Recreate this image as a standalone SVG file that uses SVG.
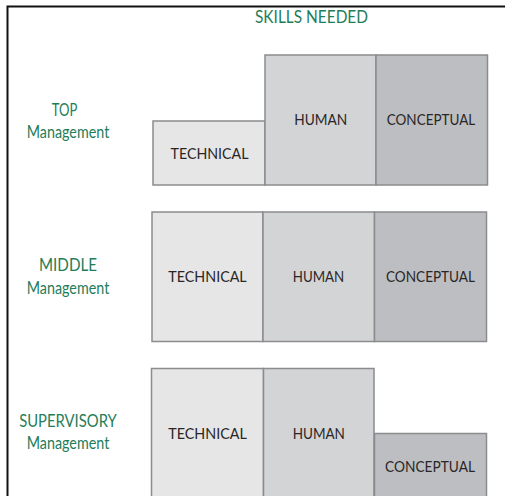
<svg xmlns="http://www.w3.org/2000/svg" width="505" height="496" viewBox="0 0 505 496">
<style>
.frame{fill:none;stroke:#111;stroke-width:2}
.box{stroke:#8c8c8e;stroke-width:1.5}
.t{fill:#e6e6e6}
.h{fill:#d3d4d6}
.c{fill:#bdbec1}
.lbl{font-family:Lato,"Open Sans","Liberation Sans",sans-serif;font-size:16px;fill:#2a2627;text-anchor:middle}
.grn{font-family:Lato,"Open Sans","Liberation Sans",sans-serif;font-size:16.5px;fill:#1f7d59;text-anchor:middle}
</style>
<rect width="505" height="496" fill="#fff"/>
<path class="frame" d="M7.5 496 V6.5 H505"/>
<g id="title"><text class="grn" x="311.5" y="23" textLength="113" lengthAdjust="spacingAndGlyphs">SKILLS NEEDED</text></g>
<g id="top-label">
<text class="grn" x="64.5" y="116" textLength="25.6" lengthAdjust="spacingAndGlyphs">TOP</text>
<text class="grn" x="68" y="138" textLength="82.6" lengthAdjust="spacingAndGlyphs">Management</text>
</g>
<g id="middle-label">
<text class="grn" x="68" y="271" textLength="58" lengthAdjust="spacingAndGlyphs">MIDDLE</text>
<text class="grn" x="68" y="294" textLength="82.6" lengthAdjust="spacingAndGlyphs">Management</text>
</g>
<g id="supervisory-label">
<text class="grn" x="68" y="427" textLength="97.6" lengthAdjust="spacingAndGlyphs">SUPERVISORY</text>
<text class="grn" x="68" y="449" textLength="82.6" lengthAdjust="spacingAndGlyphs">Management</text>
</g>
<g id="top-technical"><rect class="box t" x="153" y="121" width="112" height="64"/><text class="lbl" x="209.5" y="159" textLength="78" lengthAdjust="spacingAndGlyphs">TECHNICAL</text></g>
<g id="top-human"><rect class="box h" x="265" y="55" width="111" height="130"/><text class="lbl" x="320.7" y="125" textLength="53" lengthAdjust="spacingAndGlyphs">HUMAN</text></g>
<g id="top-conceptual"><rect class="box c" x="376" y="55" width="111.5" height="130"/><text class="lbl" x="431" y="125" textLength="88.5" lengthAdjust="spacingAndGlyphs">CONCEPTUAL</text></g>
<g id="middle-technical"><rect class="box t" x="152" y="212" width="111" height="129.5"/><text class="lbl" x="207.5" y="281.5" textLength="78.4" lengthAdjust="spacingAndGlyphs">TECHNICAL</text></g>
<g id="middle-human"><rect class="box h" x="263" y="212" width="111.5" height="129.5"/><text class="lbl" x="318.5" y="281.5" textLength="51.5" lengthAdjust="spacingAndGlyphs">HUMAN</text></g>
<g id="middle-conceptual"><rect class="box c" x="374.5" y="212" width="112" height="129.5"/><text class="lbl" x="430.5" y="281.5" textLength="89" lengthAdjust="spacingAndGlyphs">CONCEPTUAL</text></g>
<g id="supervisory-technical"><rect class="box t" x="151.5" y="368.5" width="112" height="130"/><text class="lbl" x="207.5" y="439" textLength="78.6" lengthAdjust="spacingAndGlyphs">TECHNICAL</text></g>
<g id="supervisory-human"><rect class="box h" x="263.5" y="368.5" width="110.5" height="130"/><text class="lbl" x="318.8" y="439" textLength="52.3" lengthAdjust="spacingAndGlyphs">HUMAN</text></g>
<g id="supervisory-conceptual"><rect class="box c" x="374.5" y="433.5" width="112" height="65"/><text class="lbl" x="430" y="471.5" textLength="90" lengthAdjust="spacingAndGlyphs">CONCEPTUAL</text></g>
<g id="connectors"></g>
</svg>
